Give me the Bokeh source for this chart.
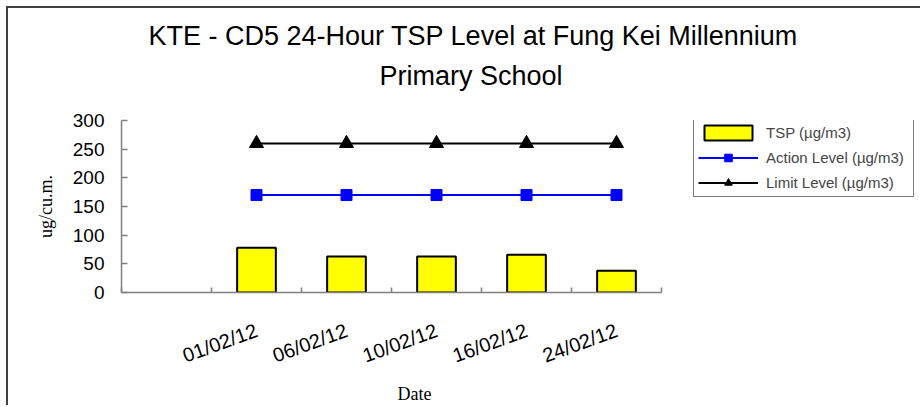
from bokeh.plotting import figure
from bokeh.models import Range1d, FixedTicker, Legend, LegendItem, Title
from bokeh.embed import file_html
from bokeh.resources import INLINE

# ---- data ----
categories = ["", "01/02/12", "06/02/12", "10/02/12", "16/02/12", "24/02/12"]
dates = ["01/02/12", "06/02/12", "10/02/12", "16/02/12", "24/02/12"]
tsp = [78, 63, 63, 66, 38]
action_level = [170, 170, 170, 170, 170]
limit_level = [260, 260, 260, 260, 260]
y_ticks = [0, 50, 100, 150, 200, 250, 300]
title_lines = ["KTE - CD5 24-Hour TSP Level at Fung Kei Millennium", "Primary School"]
x_title = "Date"
y_title = "ug/cu.m."

x_pos = [categories.index(d) + 0.5 for d in dates]

SANS = "Liberation Sans"
SERIF = "Liberation Serif"
AXIS_COLOR = "#808080"

# layout: the plot frame also hosts the legend; the category axis spans 540 px of it
W, H = 914, 399
LEFT, TOP, BOTTOM = 113, 112, 115
FRAME_W = W - LEFT
CAT_PX = 540
x_end = len(categories) * FRAME_W / CAT_PX

p = figure(width=W, height=H, output_backend="svg", toolbar_location=None,
           x_range=Range1d(0, x_end), y_range=Range1d(y_ticks[0], y_ticks[-1]),
           min_border_left=LEFT, min_border_right=0, min_border_top=TOP, min_border_bottom=BOTTOM)
p.styles = {"margin": "8px 0 0 8px", "box-shadow": "-2px -2px 0 0 #404040"}
p.outline_line_color = None
p.xgrid.visible = False
p.ygrid.visible = False
p.background_fill_color = "white"
p.border_fill_color = "white"

# titles: p.title is outermost; later add_layout items stack outward from the frame
p.title.text = title_lines[0]
p.title.align = "left"
p.title.offset = 27
p.title.text_font = SANS
p.title.text_font_size = "27px"
p.title.text_font_style = "normal"
p.title.text_color = "black"
p.title.standoff = 8
spacer = Title(text=" ", text_font_size="1px", standoff=23)
p.add_layout(spacer, "above")
t2 = Title(text=title_lines[1], align="left", offset=258,
           text_font=SANS, text_font_size="27px",
           text_font_style="normal", text_color="black", standoff=8)
p.add_layout(t2, "above")

# bars and lines
r_bar = p.vbar(x=x_pos, top=tsp, width=0.43, fill_color="#FFFF00", line_color="black", line_width=2)
r_act = p.line(x_pos, action_level, line_color="#0000FF", line_width=2)
r_act_m = p.scatter(x_pos, action_level, marker="square", size=11, fill_color="#0000FF", line_color="#0000FF")
r_lim = p.line(x_pos, limit_level, line_color="black", line_width=2)
r_lim_m = p.scatter(x_pos, limit_level, marker="triangle", size=14, fill_color="black", line_color="black")

# x axis
xa = p.xaxis[0]
xa.bounds = (0, len(categories))
xa.ticker = FixedTicker(ticks=[i + 0.5 for i in range(len(categories))], minor_ticks=list(range(len(categories) + 1)))
xa.major_label_overrides = {i + 0.5: c for i, c in enumerate(categories)}
xa.major_tick_line_color = None
xa.minor_tick_line_color = AXIS_COLOR
xa.minor_tick_in = 5
xa.minor_tick_out = 0
xa.minor_tick_line_width = 1.5
xa.axis_line_color = AXIS_COLOR
xa.axis_line_width = 1.5
xa.major_label_orientation = 0.35
xa.major_label_standoff = 31
xa.major_label_text_font = SANS
xa.major_label_text_font_size = "20px"
xa.major_label_text_color = "black"

# x-axis title, centred under the category axis as in the source chart
xt = Title(text=x_title, align="left", offset=276, text_font=SERIF, text_font_size="18px",
           text_font_style="normal", text_color="black", standoff=5)
p.add_layout(xt, "below")

# y axis
ya = p.yaxis[0]
ya.ticker = FixedTicker(ticks=y_ticks, minor_ticks=[])
ya.major_tick_in = 6
ya.major_tick_out = 0
ya.major_tick_line_color = AXIS_COLOR
ya.major_tick_line_width = 1.5
ya.axis_line_color = AXIS_COLOR
ya.axis_line_width = 1.5
ya.major_label_standoff = 17
ya.major_label_text_font = SANS
ya.major_label_text_font_size = "19px"
ya.major_label_text_color = "black"
ya.axis_label = y_title
ya.axis_label_text_font = SERIF
ya.axis_label_text_font_size = "18px"
ya.axis_label_text_font_style = "normal"
ya.axis_label_text_color = "black"
ya.axis_label_standoff = 14

legend = Legend(items=[
    LegendItem(label="TSP (µg/m3)", renderers=[r_bar]),
    LegendItem(label="Action Level (µg/m3)", renderers=[r_act, r_act_m]),
    LegendItem(label="Limit Level (µg/m3)", renderers=[r_lim, r_lim_m]),
], location=(572, 95))
legend.label_text_font = SANS
legend.label_text_font_size = "15px"
legend.label_height = 19
legend.label_width = 143
legend.glyph_height = 19
legend.glyph_width = 60
legend.label_standoff = 8
legend.padding = 4
legend.spacing = 6
legend.margin = 0
legend.border_line_color = "black"
legend.border_line_width = 1
legend.background_fill_color = "white"
legend.background_fill_alpha = 1
p.add_layout(legend, "center")

open("out.html", "w").write(file_html(p, INLINE))
